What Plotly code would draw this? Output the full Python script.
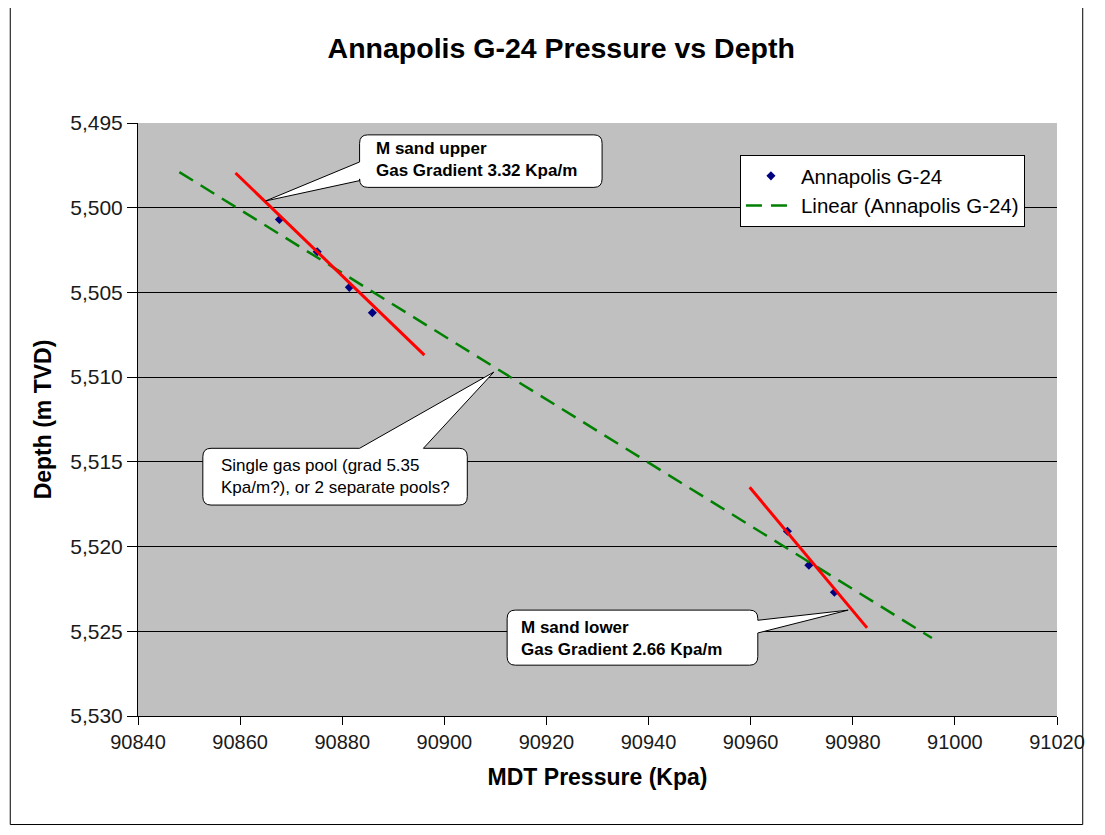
import plotly.graph_objects as go

# ---- data ----
pressure_kpa = [90867.7, 90875.1, 90881.4, 90885.9, 90967.2, 90971.4, 90976.4]
depth_m = [5500.7, 5502.6, 5504.7, 5506.2, 5519.1, 5521.1, 5522.7]

trend_x = [90848.1, 90995.5]
trend_y = [5497.9, 5525.4]

upper_grad_x = [90859.1, 90896.1]
upper_grad_y = [5497.95, 5508.7]
lower_grad_x = [90959.8, 90982.8]
lower_grad_y = [5516.5, 5524.8]

x_ticks = [90840, 90860, 90880, 90900, 90920, 90940, 90960, 90980, 91000, 91020]
y_ticks = [5495, 5500, 5505, 5510, 5515, 5520, 5525, 5530]

FONT = "Liberation Sans, Arial, sans-serif"

fig = go.Figure()
fig.add_trace(go.Scatter(x=pressure_kpa, y=depth_m, mode="markers", name="Annapolis G-24",
                         marker=dict(symbol="diamond", size=7, color="#000080")))
fig.add_trace(go.Scatter(x=trend_x, y=trend_y, mode="lines", name="Linear (Annapolis G-24)",
                         line=dict(color="#008000", width=2.5, dash="16px,9px")))
fig.add_trace(go.Scatter(x=upper_grad_x, y=upper_grad_y, mode="lines", showlegend=False,
                         line=dict(color="#FF0000", width=3)))
fig.add_trace(go.Scatter(x=lower_grad_x, y=lower_grad_y, mode="lines", showlegend=False,
                         line=dict(color="#FF0000", width=3)))

RX, RY = 1.6, 0.5  # corner radius in data units


def bubble(L, R, T, B, side, w1, w2, tip):
    p = [f"M {L+RX},{T}"]
    if side == "top":
        p += [f"L {w1},{T}", f"L {tip[0]},{tip[1]}", f"L {w2},{T}"]
    p += [f"L {R-RX},{T}", f"Q {R},{T} {R},{T+RY}"]
    if side == "right":
        p += [f"L {R},{w1}", f"L {tip[0]},{tip[1]}", f"L {R},{w2}"]
    p += [f"L {R},{B-RY}", f"Q {R},{B} {R-RX},{B}", f"L {L+RX},{B}", f"Q {L},{B} {L},{B-RY}"]
    if side == "left":
        p += [f"L {L},{w2}", f"L {tip[0]},{tip[1]}", f"L {L},{w1}"]
    p += [f"L {L},{T+RY}", f"Q {L},{T} {L+RX},{T}", "Z"]
    return dict(type="path", xref="x", yref="y", path=" ".join(p),
                fillcolor="white", line=dict(color="black", width=1), layer="above")


shapes = [
    bubble(90883.4, 90930.9, 5495.7, 5498.8, "left", 5497.3, 5498.4, (90865.0, 5499.6)),
    bubble(90852.7, 90904.5, 5514.2, 5517.55, "top", 90883.4, 90895.9, (90909.7, 5509.7)),
    bubble(90912.3, 90961.4, 5523.75, 5527.0, "right", 5524.35, 5525.1, (90979.1, 5523.75)),
    dict(type="rect", xref="paper", yref="paper", x0=-0.139, x1=1.028, y0=-0.183, y1=1.2,
         line=dict(color="black", width=1), fillcolor="rgba(0,0,0,0)", layer="below"),
]

annotations = [
    dict(x=90886.2, y=5497.15, xref="x", yref="y", xanchor="left", yanchor="middle", align="left",
         showarrow=False, text="<b>M sand upper<br>Gas Gradient 3.32 Kpa/m</b>",
         font=dict(family=FONT, size=17, color="black")),
    dict(x=90855.8, y=5515.85, xref="x", yref="y", xanchor="left", yanchor="middle", align="left",
         showarrow=False, text="Single gas pool (grad 5.35<br>Kpa/m?), or 2 separate pools?",
         font=dict(family=FONT, size=17, color="black")),
    dict(x=90914.6, y=5525.4, xref="x", yref="y", xanchor="left", yanchor="middle", align="left",
         showarrow=False, text="<b>M sand lower<br>Gas Gradient 2.66 Kpa/m</b>",
         font=dict(family=FONT, size=17, color="black")),
]

fig.update_layout(
    width=1089, height=819,
    margin=dict(l=130, r=30, t=115, b=111),
    paper_bgcolor="white", plot_bgcolor="#C0C0C0",
    font=dict(family=FONT, color="black"),
    title=dict(text="<b>Annapolis G-24 Pressure vs Depth</b>", xref="container", x=0.508,
               xanchor="center", y=0.951, yanchor="middle",
               font=dict(size=28.5, family=FONT, color="black")),
    xaxis=dict(range=[90840, 91020], tickvals=x_ticks, tickformat="d", showgrid=False,
               showline=True, linecolor="black", linewidth=1, ticks="outside", ticklen=8,
               tickcolor="black", zeroline=False,
               tickfont=dict(size=20, family=FONT, color="#1a1a1a"),
               title=dict(text="<b>MDT Pressure (Kpa)</b>", standoff=16,
                          font=dict(size=23, family=FONT, color="black"))),
    yaxis=dict(range=[5530, 5495], tickvals=y_ticks, tickformat=",", showgrid=True,
               gridcolor="black", gridwidth=1, showline=True, linecolor="black", linewidth=1,
               ticks="outside", ticklen=10, tickcolor="black", zeroline=False,
               tickfont=dict(size=21, family=FONT, color="#1a1a1a"),
               title=dict(text="<b>Depth (m TVD)</b>", standoff=12,
                          font=dict(size=23, family=FONT, color="black"))),
    legend=dict(x=0.655, y=0.946, xanchor="left", yanchor="top", bgcolor="white",
                bordercolor="black", borderwidth=1, font=dict(size=20.5, family=FONT, color="black"),
                itemwidth=50, tracegroupgap=2),
    shapes=shapes,
    annotations=annotations,
)

fig.write_html("out.html")
